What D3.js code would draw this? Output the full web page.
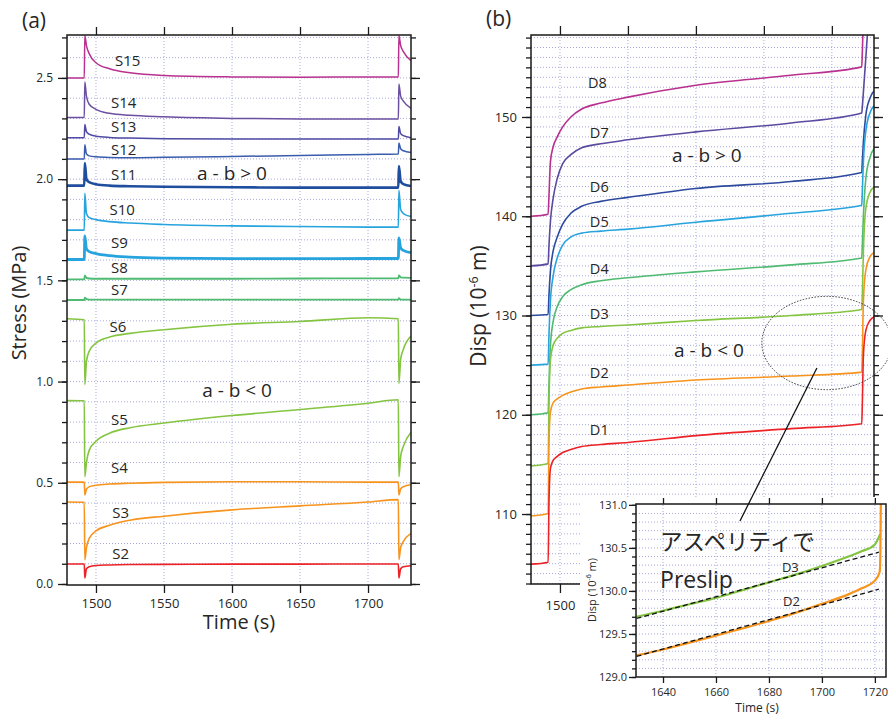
<!DOCTYPE html>
<html><head><meta charset="utf-8">
<script src="https://cdn.jsdelivr.net/npm/d3@7"></script>
<style>
body{margin:0;background:#fff}
svg text{font-family:"Open Sans","Noto Sans",sans-serif;fill:#262626}
</style>
</head><body>
<svg id="chart" width="888" height="716"></svg>
<script>
// ---------------- DATA ----------------
// Panel (a): stress, time grid shared by all series
const timeA = [1478.7, 1491.4, 1491.8, 1493, 1495, 1500, 1510, 1525, 1550, 1600, 1650, 1700, 1722.3, 1722.7, 1724, 1726, 1731.6];
const S15 = [2.50, 2.50, 2.71, 2.66, 2.62, 2.575, 2.545, 2.525, 2.512, 2.505, 2.503, 2.505, 2.505, 2.71, 2.66, 2.63, 2.585];
const S14 = [2.305, 2.305, 2.48, 2.41, 2.37, 2.345, 2.325, 2.315, 2.308, 2.300, 2.297, 2.297, 2.297, 2.47, 2.41, 2.385, 2.35];
const S13 = [2.205, 2.205, 2.27, 2.235, 2.222, 2.212, 2.206, 2.203, 2.20, 2.198, 2.198, 2.198, 2.198, 2.26, 2.225, 2.215, 2.205];
const S12 = [2.10, 2.10, 2.17, 2.125, 2.115, 2.11, 2.107, 2.106, 2.108, 2.112, 2.117, 2.122, 2.124, 2.178, 2.15, 2.14, 2.132];
const S11 = [1.968, 1.968, 2.08, 2.0, 1.985, 1.975, 1.968, 1.965, 1.962, 1.96, 1.958, 1.958, 1.958, 2.065, 1.99, 1.975, 1.966];
const S10 = [1.748, 1.748, 1.93, 1.83, 1.81, 1.80, 1.79, 1.783, 1.776, 1.769, 1.766, 1.763, 1.763, 1.945, 1.85, 1.83, 1.815];
const S9  = [1.603, 1.603, 1.72, 1.655, 1.642, 1.632, 1.622, 1.615, 1.61, 1.607, 1.607, 1.608, 1.608, 1.71, 1.66, 1.648, 1.637];
const S8  = [1.505, 1.505, 1.525, 1.512, 1.509, 1.508, 1.508, 1.508, 1.508, 1.508, 1.509, 1.51, 1.51, 1.525, 1.515, 1.513, 1.512];
const S7  = [1.403, 1.403, 1.415, 1.407, 1.405, 1.405, 1.405, 1.405, 1.405, 1.405, 1.405, 1.405, 1.405, 1.412, 1.405, 1.405, 1.405];
const S6  = [1.31, 1.305, 0.985, 1.10, 1.15, 1.19, 1.22, 1.238, 1.256, 1.283, 1.297, 1.315, 1.31, 0.99, 1.11, 1.16, 1.225];
const S5  = [0.906, 0.905, 0.53, 0.60, 0.66, 0.705, 0.745, 0.772, 0.795, 0.832, 0.862, 0.893, 0.91, 0.53, 0.63, 0.68, 0.75];
const S4  = [0.503, 0.503, 0.44, 0.468, 0.48, 0.488, 0.494, 0.498, 0.502, 0.505, 0.505, 0.503, 0.503, 0.44, 0.47, 0.48, 0.49];
const S3  = [0.405, 0.404, 0.12, 0.18, 0.225, 0.262, 0.29, 0.315, 0.335, 0.366, 0.386, 0.405, 0.417, 0.12, 0.18, 0.21, 0.25];
const S2  = [0.099, 0.099, 0.03, 0.075, 0.085, 0.091, 0.094, 0.096, 0.097, 0.098, 0.098, 0.099, 0.099, 0.03, 0.075, 0.085, 0.09];
const namesA = ["S15","S14","S13","S12","S11","S10","S9","S8","S7","S6","S5","S4","S3","S2"];
const valuesA = [S15,S14,S13,S12,S11,S10,S9,S8,S7,S6,S5,S4,S3,S2];

// Panel (b): displacement (10^-6 m)
const timeB = [1478.7, 1491.3, 1491.9, 1493, 1495, 1498, 1502, 1508, 1516, 1530, 1550, 1600, 1670, 1722, 1722.4, 1723.2, 1725, 1728, 1731.5];
const D8 = [140.0, 140.2, 142.0, 145.5, 147.0, 148.0, 149.0, 150.0, 150.8, 151.4, 152.0, 153.2, 154.2, 155.05, 156.5, 160, 166, 172, 178];
const D7 = [135.0, 135.2, 137.0, 139.5, 141.8, 143.8, 145.3, 146.2, 146.9, 147.3, 147.7, 148.5, 149.4, 150.4, 151.0, 152.5, 156.0, 162, 168];
const D6 = [130.0, 130.1, 132.0, 134.5, 136.5, 137.9, 139.2, 140.3, 141.0, 141.5, 141.9, 142.8, 143.5, 144.4, 145.5, 147.5, 150.2, 151.9, 152.7];
const D5 = [125.0, 125.1, 128.0, 131.5, 134.0, 135.8, 137.1, 137.9, 138.3, 138.5, 138.7, 139.4, 140.3, 141.1, 142.5, 145.5, 148.6, 150.4, 151.2];
const D4 = [120.0, 120.2, 123.0, 127.0, 129.4, 130.9, 131.9, 132.6, 133.1, 133.5, 133.8, 134.4, 135.1, 135.8, 137.0, 140.0, 143.8, 145.9, 146.9];
const D3 = [114.85, 115.1, 121.0, 125.5, 127.0, 127.7, 128.2, 128.5, 128.75, 128.9, 129.05, 129.5, 130.0, 130.6, 132.0, 136.5, 140.8, 142.4, 143.0];
const D2 = [109.8, 110.05, 117.0, 120.3, 121.2, 121.6, 121.95, 122.3, 122.6, 122.8, 123.0, 123.5, 123.9, 124.3, 126.0, 131.5, 134.6, 135.9, 136.4];
const D1 = [104.95, 105.15, 111.0, 114.6, 115.4, 115.8, 116.2, 116.5, 116.8, 117.0, 117.2, 117.9, 118.6, 119.1, 121.0, 126.0, 128.5, 129.5, 129.9];
const namesB = ["D8","D7","D6","D5","D4","D3","D2","D1"];
const valuesB = [D8,D7,D6,D5,D4,D3,D2,D1];

// Inset: preslip detail
const timeInsetD3 = [1629.8, 1640, 1650, 1660, 1670, 1680, 1690, 1700, 1710, 1715, 1720, 1722];
const insetD3 = [129.70, 129.77, 129.845, 129.92, 130.01, 130.10, 130.19, 130.29, 130.40, 130.46, 130.54, 130.66];
const timeInsetD2 = [1629.8, 1640, 1650, 1660, 1670, 1680, 1690, 1700, 1710, 1715, 1720, 1721.8, 1722.1, 1722.3];
const insetD2 = [129.25, 129.32, 129.40, 129.48, 129.565, 129.65, 129.745, 129.85, 129.96, 130.03, 130.12, 130.22, 130.5, 131.2];
const fitTime = [1630, 1721.5];
const fitD3 = [129.68, 130.45];
const fitD2 = [129.24, 130.02];

// Tick values
const ticksTime = [1500, 1550, 1600, 1650, 1700];
const ticksStress = [0, 0.5, 1.0, 1.5, 2.0, 2.5];
const ticksDisp = [110, 120, 130, 140, 150];
const ticksInsetTime = [1640, 1660, 1680, 1700, 1720];
const ticksInsetDisp = [129.0, 129.5, 130.0, 130.5, 131.0];

// ---------------- STYLE / LAYOUT ----------------
const colorsA = ["#b8318f","#6b4fa1","#4f4aa3","#3a5cad","#1f4e9f","#27a4de","#27a4de","#4fba71","#4fba71","#84c441","#84c441","#f7941d","#f7941d","#ec2227"];
const widthsA = [1.5,1.5,1.5,1.5,2.6,1.6,2.8,1.8,1.8,1.6,1.6,1.6,1.6,1.6];
const colorsB = ["#b8318f","#5b4a9f","#2d4a9e","#27a4de","#4fba71","#84c441","#f7941d","#ec2227"];
// label anchors (data coords)
const labelPosA = [[1514,2.559],[1511,2.352],[1511,2.233],[1511,2.12],[1511,1.996],[1510,1.823],[1511,1.66],[1511,1.537],[1511,1.428],[1510,1.245],[1511,0.786],[1511,0.548],[1512,0.326],[1512,0.124]];
const labelPosB = [[1520.6,152.92],[1522,147.88],[1522,142.44],[1522,138.92],[1522,134.18],[1522,129.65],[1522,123.70],[1522,117.96]];

const gridColor = "#a7a9de";
const axisColor = "#1a1a1a";
const svg = d3.select("#chart");

const xA = d3.scaleLinear().domain([1478.7, 1731.6]).range([67, 411]);
const yA = d3.scaleLinear().domain([-0.005, 2.712]).range([585, 35]);
const xB = d3.scaleLinear().domain([1478.7, 1731]).range([531, 874]);
const yB = d3.scaleLinear().domain([102.95, 158.26]).range([584, 35]);
const xI = d3.scaleLinear().domain([1629.8, 1724.2]).range([636, 886]);
const yI = d3.scaleLinear().domain([129.0, 131.01]).range([677, 504]);

const defs = svg.append("defs");
function clip(id, x, y){
  defs.append("clipPath").attr("id", id).append("rect")
    .attr("x", x.range()[0]).attr("y", y.range()[1])
    .attr("width", x.range()[1]-x.range()[0]).attr("height", y.range()[0]-y.range()[1]);
}
clip("clipA", xA, yA); clip("clipB", xB, yB); clip("clipI", xI, yI);

function grid(g, x, y, xt, yt){
  g.append("g").selectAll("line").data(xt).join("line")
    .attr("x1", d=>x(d)).attr("x2", d=>x(d)).attr("y1", y.range()[0]).attr("y2", y.range()[1])
    .attr("stroke", gridColor).attr("stroke-width", 1).attr("stroke-dasharray", "1,2");
  g.append("g").selectAll("line").data(yt).join("line")
    .attr("y1", d=>y(d)).attr("y2", d=>y(d)).attr("x1", x.range()[0]).attr("x2", x.range()[1])
    .attr("stroke", gridColor).attr("stroke-width", 1).attr("stroke-dasharray", "1,2");
}

function styleAxis(sel, fs){
  sel.select(".domain").remove();
  sel.selectAll(".tick line").attr("stroke", axisColor).attr("stroke-width", 1.3);
  sel.selectAll(".tick text").attr("font-size", fs).attr("fill", "#262626")
    .attr("font-family", '"Open Sans","Noto Sans",sans-serif');
}

function axes(g, x, y, o){
  const x0 = x.range()[0], x1 = x.range()[1], y0 = y.range()[0], y1 = y.range()[1];
  g.append("g").attr("transform", `translate(${x0},0)`)
    .call(d3.axisLeft(y).tickValues(o.yMinor).tickSize(o.minLen).tickFormat("")).call(styleAxis, o.yfs);
  g.append("g").attr("transform", `translate(${x0},0)`)
    .call(d3.axisLeft(y).tickValues(o.yMajor).tickSize(o.majLen).tickPadding(o.ypad).tickFormat(o.yfmt)).call(styleAxis, o.yfs);
  if (o.right){
    g.append("g").attr("transform", `translate(${x1},0)`)
      .call(d3.axisRight(y).tickValues(o.yMinor).tickSize(o.minLen).tickFormat("")).call(styleAxis, o.yfs);
    g.append("g").attr("transform", `translate(${x1},0)`)
      .call(d3.axisRight(y).tickValues(o.yMajor).tickSize(o.majLen).tickFormat("")).call(styleAxis, o.yfs);
  }
  g.append("g").attr("transform", `translate(0,${y1})`)
    .call(d3.axisTop(x).tickValues(o.xMajor).tickSize(o.xLen).tickFormat("")).call(styleAxis, o.xfs);
  g.append("g").attr("transform", `translate(0,${y0})`)
    .call(d3.axisBottom(x).tickValues(o.xMajor).tickSize(o.xLen).tickPadding(o.xpad).tickFormat(d3.format("d"))).call(styleAxis, o.xfs);
  g.append("rect").attr("x", x0).attr("y", y1).attr("width", x1-x0).attr("height", y0-y1)
    .attr("fill", "none").attr("stroke", axisColor).attr("stroke-width", 1.5);
}

function line(x, y, t){
  return d3.line().x((d,i)=>x(t[i])).y(d=>y(d)).curve(d3.curveMonotoneX);
}

// ---------------- PANEL A ----------------
const gA = svg.append("g");
grid(gA, xA, yA, ticksTime, d3.range(1, 28).map(i=>i/10));
gA.append("g").attr("clip-path", "url(#clipA)").selectAll("path").data(valuesA).join("path")
  .attr("d", v=>line(xA, yA, timeA)(v)).attr("fill", "none")
  .attr("stroke", (v,i)=>colorsA[i]).attr("stroke-width", (v,i)=>widthsA[i]).attr("stroke-linejoin", "round");
axes(gA, xA, yA, {yMajor: ticksStress, yMinor: d3.range(0, 28).map(i=>i/10), yfmt: d3.format(".1f"),
  minLen: 5, majLen: 9, ypad: 5, yfs: 12, right: true, xMajor: ticksTime, xLen: 8, xpad: 6, xfs: 13});
gA.append("g").selectAll("text").data(namesA).join("text")
  .attr("x", (d,i)=>xA(labelPosA[i][0])).attr("y", (d,i)=>yA(labelPosA[i][1]))
  .attr("font-size", 15).text(d=>d);
gA.append("text").attr("x", xA(1600)).attr("y", yA(1.996)).attr("text-anchor", "middle").attr("font-size", 19).text("a - b > 0");
gA.append("text").attr("x", xA(1603.7)).attr("y", yA(0.924)).attr("text-anchor", "middle").attr("font-size", 19).text("a - b < 0");
gA.append("text").attr("x", 239).attr("y", 629).attr("text-anchor", "middle").attr("font-size", 20).text("Time (s)");
gA.append("text").attr("transform", "translate(26,303) rotate(-90)").attr("text-anchor", "middle").attr("font-size", 20).text("Stress (MPa)");
svg.append("text").attr("x", 22).attr("y", 28).attr("font-size", 21).text("(a)");

// ---------------- PANEL B ----------------
const gB = svg.append("g");
grid(gB, xB, yB, ticksTime, d3.range(103, 159));
gB.append("g").attr("clip-path", "url(#clipB)").selectAll("path").data(valuesB).join("path")
  .attr("d", v=>line(xB, yB, timeB)(v)).attr("fill", "none")
  .attr("stroke", (v,i)=>colorsB[i]).attr("stroke-width", 1.6).attr("stroke-linejoin", "round");
axes(gB, xB, yB, {yMajor: ticksDisp, yMinor: d3.range(103, 159), yfmt: d3.format("d"),
  minLen: 5, majLen: 9, ypad: 5, yfs: 13, right: true, xMajor: ticksTime, xLen: 9, xpad: 8, xfs: 13});
gB.append("g").selectAll("text").data(namesB).join("text")
  .attr("x", (d,i)=>xB(labelPosB[i][0])).attr("y", (d,i)=>yB(labelPosB[i][1]))
  .attr("font-size", 14.5).text(d=>d);
gB.append("text").attr("x", xB(1608)).attr("y", yB(145.47)).attr("text-anchor", "middle").attr("font-size", 19).text("a - b > 0");
gB.append("text").attr("x", xB(1609.6)).attr("y", yB(125.82)).attr("text-anchor", "middle").attr("font-size", 19).text("a - b < 0");
const dl = gB.append("text").attr("transform", "translate(486,306) rotate(-90)").attr("text-anchor", "middle").attr("font-size", 21);
dl.append("tspan").text("Disp (10");
dl.append("tspan").attr("font-size", 12.5).attr("dy", -8).text("-6");
dl.append("tspan").attr("dy", 8).text(" m)");
svg.append("text").attr("x", 486).attr("y", 26).attr("font-size", 21).text("(b)");

// dotted ellipse marking preslip region
gB.append("ellipse").attr("cx", xB(1696.3)).attr("cy", yB(127.23))
  .attr("rx", xB(1696.3+47.8)-xB(1696.3)).attr("ry", yB(127.23)-yB(127.23+4.7))
  .attr("fill", "none").attr("stroke", "#333").attr("stroke-width", 1).attr("stroke-dasharray", "1.5,1.5");

// ---------------- INSET ----------------
svg.append("rect").attr("x", 580).attr("y", 497).attr("width", 308).attr("height", 219).attr("fill", "#fff");
const gI = svg.append("g");
grid(gI, xI, yI, ticksInsetTime, d3.range(1, 20).map(i=>129 + i/10));
const gIl = gI.append("g").attr("clip-path", "url(#clipI)");
gIl.append("path").attr("d", line(xI, yI, timeInsetD3)(insetD3)).attr("fill", "none").attr("stroke", "#84c441").attr("stroke-width", 2.2);
gIl.append("path").attr("d", line(xI, yI, timeInsetD2)(insetD2)).attr("fill", "none").attr("stroke", "#f7941d").attr("stroke-width", 2.2);
gIl.append("path").attr("d", d3.line().x((d,i)=>xI(fitTime[i])).y(d=>yI(d))(fitD3)).attr("fill", "none").attr("stroke", "#111").attr("stroke-width", 1.3).attr("stroke-dasharray", "5,3");
gIl.append("path").attr("d", d3.line().x((d,i)=>xI(fitTime[i])).y(d=>yI(d))(fitD2)).attr("fill", "none").attr("stroke", "#111").attr("stroke-width", 1.3).attr("stroke-dasharray", "5,3");
axes(gI, xI, yI, {yMajor: ticksInsetDisp, yMinor: d3.range(0, 21).map(i=>129 + i/10), yfmt: d3.format(".1f"),
  minLen: 4, majLen: 7, ypad: 2, yfs: 11, right: false, xMajor: ticksInsetTime, xLen: 6, xpad: 5, xfs: 11});
gI.append("text").attr("x", xI(1684.9)).attr("y", yI(130.225)).attr("font-size", 13).text("D3");
gI.append("text").attr("x", xI(1685.3)).attr("y", yI(129.826)).attr("font-size", 13).text("D2");
gI.append("text").attr("x", xI(1638.9)).attr("y", yI(130.47)).attr("font-size", 22.5)
  .style("font-family", '"Noto Sans CJK JP",sans-serif').text("アスペリティで");
gI.append("text").attr("x", xI(1638.9)).attr("y", yI(130.035)).attr("font-size", 23).text("Preslip");
gI.append("text").attr("x", 757).attr("y", 712).attr("text-anchor", "middle").attr("font-size", 12).text("Time (s)");
const il = gI.append("text").attr("transform", "translate(596,590) rotate(-90)").attr("text-anchor", "middle").attr("font-size", 11);
il.append("tspan").text("Disp (10");
il.append("tspan").attr("font-size", 7).attr("dy", -5).text("-6");
il.append("tspan").attr("dy", 5).text(" m)");

// pointer line from ellipse to inset
svg.append("line").attr("x1", xB(1689)).attr("y1", yB(124.71)).attr("x2", xB(1632.4)).attr("y2", yB(109.3))
  .attr("stroke", "#111").attr("stroke-width", 1.3);
</script>
</body></html>
